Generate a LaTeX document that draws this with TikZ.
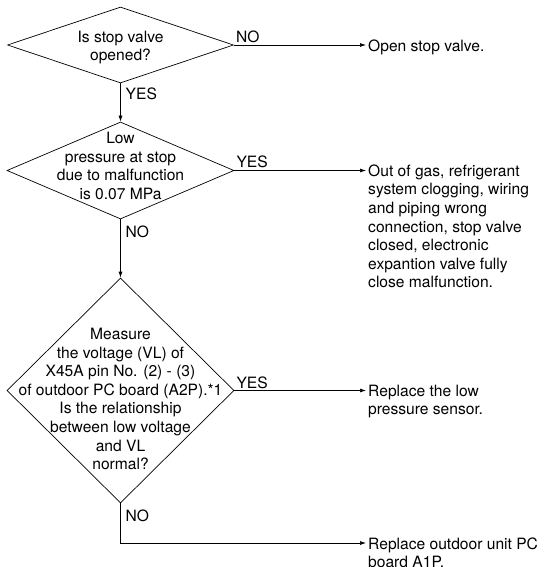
\documentclass[tikz,border=0pt]{standalone}
\usepackage{fontspec}
\setmainfont{TeX Gyre Heros}
\usetikzlibrary{positioning}
\usetikzlibrary{shapes.geometric}
\usetikzlibrary{arrows.meta}

\begin{document}
\begin{tikzpicture}[x=1pt, y=-1pt,
    every node/.style={font=\fontsize{15.6}{18.6}\selectfont, inner sep=0pt},
    check/.style={diamond, draw, line width=0.7pt},
    flow/.style={line width=0.7pt, -{Latex[length=6pt, width=4pt]}},
    outflow/.style={flow, shorten >=2pt},
    result/.style={anchor=north west, align=left}]
    \useasboundingbox (0,0) rectangle (544,567);

    % Decisions
    \node[check, minimum width=226pt, minimum height=76pt] (d1) at (120.5,45) {};
    \node[check, minimum width=227pt, minimum height=97pt] (d2) at (120.5,170.5) {};
    \node[check, minimum width=227pt, minimum height=225pt] (d3) at (120.5,390.5) {};

    \node[align=center] (t1) at (120.5,47.5) {Is stop valve\\opened?};
    \node[align=center] (t2) at (120.5,166) {Low\\pressure at stop\\due to malfunction\\is 0.07 MPa};
    \node[align=center] (t3) at (120.5,399) {Measure\\the voltage (VL) of\\X45A pin No. (2) - (3)\\of outdoor PC board (A2P).*1\\Is the relationship\\between low voltage\\and VL\\normal?};

    % Results
    \node[result] (r1) at (368,39.5) {Open stop valve.};
    \node[result] (r2) at (368,164.5) {Out of gas, refrigerant\\system clogging, wiring\\and piping wrong\\connection, stop valve\\closed, electronic\\expantion valve fully\\close malfunction.};
    \node[result] (r3) at (368,384.5) {Replace the low\\pressure sensor.};
    \coordinate (c4) at (368,543);
    \node[result] (r4) at ([shift={(0,-5.5)}]c4) {Replace outdoor unit PC\\board A1P.};

    % Edges
    \draw[flow] (d1.south) -- (d2.north);
    \draw[flow] (d2.south) -- (d3.north);
    \draw[outflow] (d1.east) -- (d1.east -| r1.west);
    \draw[outflow] (d2.east) -- (d2.east -| r2.west);
    \draw[outflow] (d3.east) -- (d3.east -| r3.west);
    \draw[outflow] (d3.south) |- (c4);

    % Answers
    \node[anchor=base west] (n1) at ([shift={(2,-2)}]d1.east) {NO};
    \node[anchor=north west] (y1) at ([shift={(5,4.5)}]d1.south) {YES};
    \node[anchor=base west] (y2) at ([shift={(2,-3)}]d2.east) {YES};
    \node[anchor=north west] (n2) at ([shift={(5,6)}]d2.south) {NO};
    \node[anchor=base west] (y3) at ([shift={(2,-2)}]d3.east) {YES};
    \node[anchor=north west] (n3) at ([shift={(5,6.5)}]d3.south) {NO};
\end{tikzpicture}
\end{document}
